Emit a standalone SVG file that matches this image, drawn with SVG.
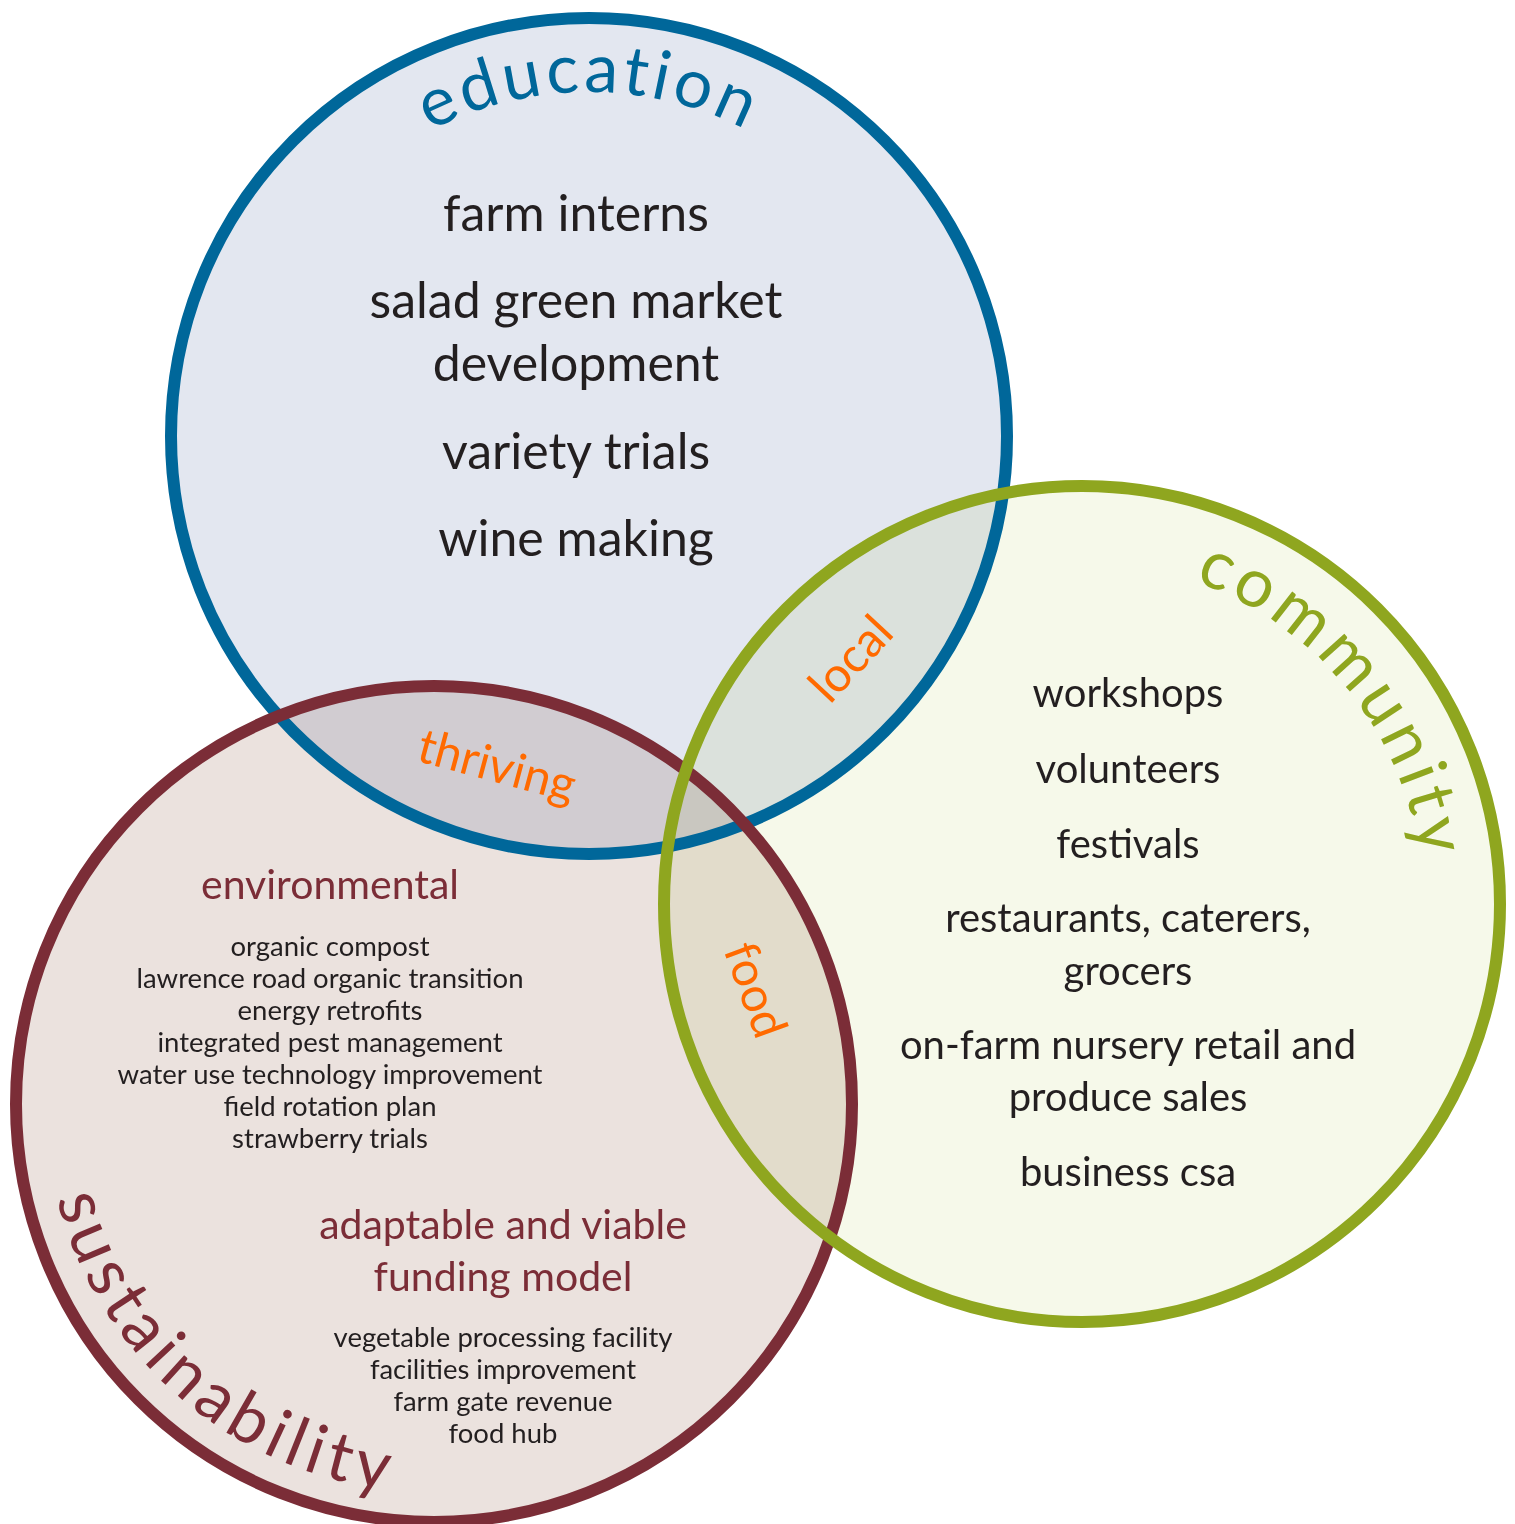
<svg xmlns="http://www.w3.org/2000/svg" width="1515" height="1524" viewBox="0 0 1515 1524">
<style>
.fill{mix-blend-mode:multiply}
.ring{fill:none;stroke-width:12}
.t{font-family:Lato,"Open Sans","DejaVu Sans",sans-serif;text-anchor:middle}
.big{font-size:50px;fill:#231f20}
.mid{font-size:40px;fill:#231f20}
.sm{font-size:27.5px;fill:#231f20}
.head{font-size:41px;fill:#7b2d37}
.ov{font-size:48px;fill:#ff6a00}
.title{font-size:68px}
</style>
<defs>
<path id="pEdu" d="M 245 436 A 344 344 0 0 1 933 436"/>
<path id="pCom" d="M 864.9 635.9 A 345 345 0 0 1 1299.1 1172.1"/>
<path id="pSus" d="M 138.2 846.8 A 392 392 0 0 0 729.8 1361.2"/>
</defs>
<rect width="1515" height="1524" fill="#ffffff"/>
<g id="fills">
<circle class="fill" cx="589" cy="436" r="418" fill="#e3e7f0"/>
<circle class="fill" cx="434" cy="1104" r="418" fill="#ebe2de"/>
<circle class="fill" cx="1082" cy="904" r="418" fill="#f6f9ea"/>
</g>
<g id="rings">
<circle id="education-ring" class="ring" cx="589" cy="436" r="418" stroke="#00679a"/>
<circle id="sustainability-ring" class="ring" cx="434" cy="1104" r="418" stroke="#7b2d37"/>
<circle id="community-ring" class="ring" cx="1082" cy="904" r="418" stroke="#8fa61f"/>
</g>
<g id="education">
<text class="t title" fill="#00679a" letter-spacing="4"><textPath href="#pEdu" startOffset="50%">education</textPath></text>
<text class="t big" x="576" y="231">farm interns</text>
<text class="t big" x="576" y="318">salad green market</text>
<text class="t big" x="576" y="381">development</text>
<text class="t big" x="576" y="469">variety trials</text>
<text class="t big" x="576" y="556">wine making</text>
</g>
<g id="community">
<text class="t title" fill="#8fa61f" letter-spacing="5"><textPath href="#pCom" startOffset="50%">community</textPath></text>
<text class="t mid" x="1128" y="707">workshops</text>
<text class="t mid" x="1128" y="783">volunteers</text>
<text class="t mid" x="1128" y="858">festivals</text>
<text class="t mid" x="1128" y="932">restaurants, caterers,</text>
<text class="t mid" x="1128" y="985">grocers</text>
<text class="t mid" x="1128" y="1059">on-farm nursery retail and</text>
<text class="t mid" x="1128" y="1111">produce sales</text>
<text class="t mid" x="1128" y="1186">business csa</text>
</g>
<g id="sustainability">
<text class="t title" fill="#7b2d37" font-size="72" letter-spacing="6"><textPath href="#pSus" startOffset="50%">sustainability</textPath></text>
<text class="t head" x="330" y="899">environmental</text>
<text class="t sm" x="330" y="956">organic compost</text>
<text class="t sm" x="330" y="988">lawrence road organic transition</text>
<text class="t sm" x="330" y="1020">energy retrofits</text>
<text class="t sm" x="330" y="1052">integrated pest management</text>
<text class="t sm" x="330" y="1084">water use technology improvement</text>
<text class="t sm" x="330" y="1116">field rotation plan</text>
<text class="t sm" x="330" y="1148">strawberry trials</text>
<text class="t head" x="503" y="1239">adaptable and viable</text>
<text class="t head" x="503" y="1291">funding model</text>
<text class="t sm" x="503" y="1347">vegetable processing facility</text>
<text class="t sm" x="503" y="1379">facilities improvement</text>
<text class="t sm" x="503" y="1411">farm gate revenue</text>
<text class="t sm" x="503" y="1443">food hub</text>
</g>
<g id="overlaps">
<text id="local" class="t ov" transform="translate(851 659) rotate(-47)" y="16">local</text>
<text id="thriving" class="t ov" transform="translate(497 766) rotate(15)" y="16">thriving</text>
<text id="food" class="t ov" transform="translate(755 990) rotate(70)" y="16">food</text>
</g>
</svg>
